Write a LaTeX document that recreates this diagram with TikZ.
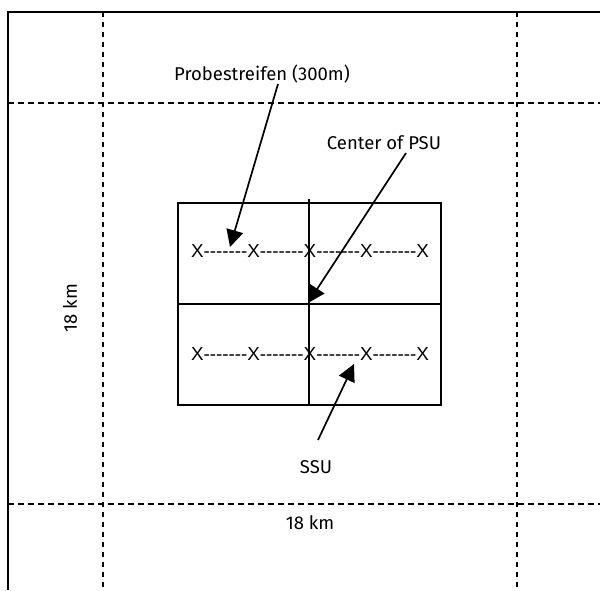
\documentclass[tikz,border=0pt]{standalone}
\usepackage{fontspec}
\setmainfont{Fira Sans}
\newfontfamily\xfont{Liberation Sans}
\usetikzlibrary{arrows.meta}
\begin{document}
\begin{tikzpicture}[x=1pt,y=-1pt,
  frame/.style={line width=2.2pt},
  gridv/.style={line width=2pt,dash pattern=on 5pt off 5pt},
  gridh/.style={line width=2.2pt,dash pattern=on 6pt off 4pt},
  cell/.style={line width=2pt},
  lbl/.style={font=\fontsize{18.5}{20}\selectfont,inner sep=0pt},
  xrow/.style={font=\xfont\fontsize{18.8}{20}\selectfont,inner sep=0pt},
  pointer/.style={line width=1.7pt,-{Triangle[length=17pt,width=17pt]}}]
\useasboundingbox (0,0) rectangle (600,590);
% outer frame (top and left)
\draw[frame] (8,590) -- (8,12) -- (600,12);
% dashed grid
\draw[gridv] (103,12) -- (103,590);
\draw[gridv] (517,12) -- (517,590);
\draw[gridh] (8,103) -- (600,103);
\draw[gridh] (8,504) -- (600,504);
% PSU cells
\draw[cell] (178,203) rectangle (441,405);
\draw[cell] (178,304) -- (441,304);
\draw[line width=1.5pt] (309,199) -- (309,405);
% rows of SSUs
\node[xrow] (row1) at (310,251) {X-------X-------X-------X-------X};
\node[xrow] (row2) at (310,354) {X-------X-------X-------X-------X};
% labels
\node[lbl] (probe) at (262,74) {Probestreifen (300m)};
\node[lbl] (center) at (384,143) {Center of PSU};
\node[lbl] (ssu) at (316,467) {SSU};
\node[lbl] (kmb) at (310,523) {18 km};
\node[lbl,rotate=90] (kml) at (70,308) {18 km};
% pointers
\coordinate (probeS) at (278,84);
\coordinate (probeT) at (230,247);
\coordinate (centerS) at (406,153);
\coordinate (centerT) at (308,303);
\coordinate (ssuS) at (318,440);
\coordinate (ssuT) at (354,364);
\draw[pointer] (probeS) -- (probeT);
\draw[pointer] (centerS) -- (centerT);
\draw[pointer] (ssuS) -- (ssuT);
\end{tikzpicture}
\end{document}
